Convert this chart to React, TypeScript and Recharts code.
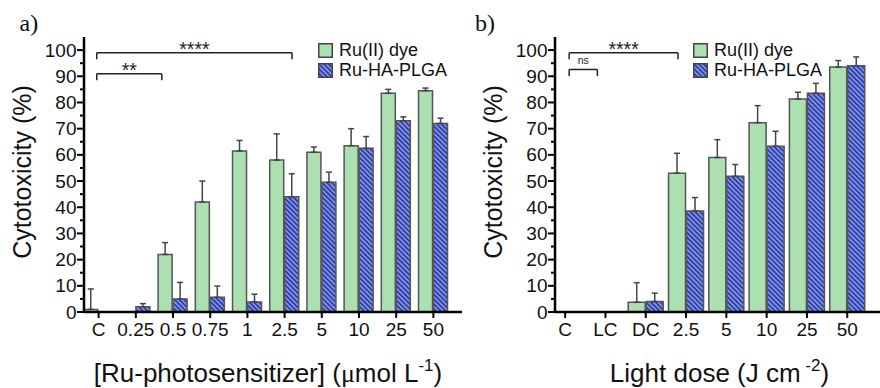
import React from 'react';
import { BarChart, Bar, XAxis, YAxis, ErrorBar, ReferenceLine, Legend, Label } from 'recharts';

// ---------- data ----------
const concCategories = ['C', '0.25', '0.5', '0.75', '1', '2.5', '5', '10', '25', '50'];
const concDyeMean = [1, 0, 22, 42, 61.5, 58, 61, 63.5, 83.5, 84.5];
const concDyeSD = [7.8, 0, 4.5, 8, 4, 10, 2, 6.5, 1.5, 1];
const concNanoMean = [0, 2, 5, 5.6, 3.8, 44, 49.5, 62.5, 73, 72];
const concNanoSD = [0, 1.2, 6.3, 4.3, 3, 8.8, 3.9, 4.5, 1.5, 2];

const doseCategories = ['C', 'LC', 'DC', '2.5', '5', '10', '25', '50'];
const doseDyeMean = [0, 0, 3.7, 53, 59, 72.3, 81.3, 93.5];
const doseDyeSD = [0, 0, 7.5, 7.6, 6.8, 6.5, 2.6, 2.5];
const doseNanoMean = [0, 0, 4, 38.6, 51.8, 63.3, 83.5, 94];
const doseNanoSD = [0, 0, 3.2, 5.1, 4.5, 5.7, 3.8, 3.4];

const seriesNames = ['Ru(II) dye', 'Ru-HA-PLGA'];
const yTicks = [0, 5, 10, 15, 20, 25, 30, 35, 40, 45, 50, 55, 60, 65, 70, 75, 80, 85, 90, 95, 100];

// significance brackets (span in category units, height in %)
const concBrackets = [
  { from: 0.45, to: 5.7, y: 99, text: '****', small: false },
  { from: 0.45, to: 2.2, y: 91, text: '**', small: false },
];
const doseBrackets = [
  { from: 0.6, to: 3.3, y: 99, text: '****', small: false },
  { from: 0.6, to: 1.3, y: 92.6, text: 'ns', small: true },
];

// ---------- styles ----------
const FONT = 'Liberation Sans, Arial, sans-serif';
const GREEN = '#ade0b0';
const BAR_STROKE = '#555';
const INK = '#111';

const YTick = (props: any) => {
  const { x, y, payload } = props;
  const major = payload.value % 10 === 0;
  const axisX = x + 9;
  return (
    <g>
      <line x1={axisX - (major ? 7 : 4)} x2={axisX} y1={y} y2={y} stroke="#000" strokeWidth={2} />
      {major && (
        <text x={x + 1.5} y={y} textAnchor="end" dominantBaseline="central" fontSize={19} fill={INK} fontFamily={FONT}>
          {payload.value}
        </text>
      )}
    </g>
  );
};

function makeLegend(fills: string[]) {
  return (props: any) => {
    const payload = props.payload || [];
    return (
      <div style={{ fontFamily: FONT, fontSize: 18, color: INK, lineHeight: '20px' }}>
        {payload.map((e: any, i: number) => (
          <div key={i} style={{ display: 'flex', alignItems: 'center', height: 20, whiteSpace: 'nowrap' }}>
            <svg width={15} height={15} style={{ marginRight: 6 }}>
              <rect x={0.75} y={0.75} width={13.5} height={13.5} fill={fills[i]} stroke="#444" strokeWidth={1.5} />
            </svg>
            <span>{e.value}</span>
          </div>
        ))}
      </div>
    );
  };
}

type PanelProps = {
  categories: string[];
  dyeMean: number[];
  dyeSD: number[];
  nanoMean: number[];
  nanoSD: number[];
  brackets: { from: number; to: number; y: number; text: string; small: boolean }[];
  patternId: string;
  width: number;
  yAxisWidth: number;
  marginRight: number;
  padLeft: number;
  padRight: number;
  catGap: string;
  legendLeft: number;
  xTitle: (cx: number, y: number) => React.ReactNode;
};

function Panel(p: PanelProps) {
  const data = p.categories.map((c, i) => ({
    cat: c,
    idx: i,
    dye: p.dyeMean[i],
    dyeErr: [0, p.dyeSD[i]],
    nano: p.nanoMean[i],
    nanoErr: [0, p.nanoSD[i]],
  }));
  const hatch = `url(#${p.patternId})`;
  const pad = { left: p.padLeft, right: p.padRight };
  const axisLine = { stroke: '#000', strokeWidth: 2.5 };
  const drop = 2.5;

  const bracketEls: React.ReactNode[] = [];
  p.brackets.forEach((b, k) => {
    bracketEls.push(
      <ReferenceLine
        key={`h${k}`}
        xAxisId="n"
        segment={[{ x: b.from, y: b.y }, { x: b.to, y: b.y }]}
        stroke="#222"
        strokeWidth={1.5}
        ifOverflow="visible"
        label={(lp: any) => {
          const vb = lp.viewBox || {};
          const cx = vb.x + vb.width / 2;
          return (
            <text
              x={cx}
              y={b.small ? vb.y - 5 : vb.y + 3.5}
              textAnchor="middle"
              fontSize={b.small ? 10.5 : 19.5}
              fill="#222"
              fontFamily={FONT}
            >
              {b.text}
            </text>
          );
        }}
      />
    );
    bracketEls.push(
      <ReferenceLine key={`l${k}`} xAxisId="n" segment={[{ x: b.from, y: b.y }, { x: b.from, y: b.y - drop }]} stroke="#222" strokeWidth={1.5} ifOverflow="visible" />
    );
    bracketEls.push(
      <ReferenceLine key={`r${k}`} xAxisId="n" segment={[{ x: b.to, y: b.y }, { x: b.to, y: b.y - drop }]} stroke="#222" strokeWidth={1.5} ifOverflow="visible" />
    );
  });

  return (
    <BarChart
      width={p.width}
      height={388}
      data={data}
      margin={{ top: 37, right: p.marginRight, bottom: 0, left: 0 }}
      barCategoryGap={p.catGap}
      barGap={1}
    >
      <defs>
        <pattern id={p.patternId} patternUnits="userSpaceOnUse" width={3.4} height={3.4} patternTransform="rotate(-45)">
          <rect width={3.4} height={3.4} fill="#2a3cae" />
          <line x1={1.7} y1={0} x2={1.7} y2={3.4} stroke="#9fb0ea" strokeWidth={1.3} />
        </pattern>
      </defs>
      <XAxis
        dataKey="cat"
        height={76}
        padding={pad}
        interval={0}
        tickSize={6}
        tickMargin={5}
        axisLine={axisLine}
        tickLine={{ stroke: '#000', strokeWidth: 2 }}
        tick={{ fontSize: 19, fill: INK, fontFamily: FONT }}
      >
        <Label content={(lp: any) => {
          const vb = lp.viewBox || {};
          return p.xTitle(vb.x + vb.width / 2, vb.y + 70);
        }} />
      </XAxis>
      <XAxis xAxisId="top" dataKey="cat" orientation="top" height={0} padding={pad} tick={false} tickLine={false} axisLine={axisLine} />
      <XAxis xAxisId="n" dataKey="idx" type="number" domain={[0, p.categories.length]} padding={pad} hide allowDataOverflow />
      <YAxis
        domain={[0, 105]}
        ticks={yTicks}
        interval={0}
        width={p.yAxisWidth}
        tickSize={6}
        tickMargin={3}
        tickLine={false}
        tick={<YTick />}
        axisLine={axisLine}
        allowDataOverflow
      >
        <Label content={(lp: any) => {
          const vb = lp.viewBox || {};
          const x = vb.x + vb.width - 53;
          const y = vb.y + vb.height / 2 - 2.5;
          return (
            <text x={x} y={y} transform={`rotate(-90 ${x} ${y})`} textAnchor="middle" fontSize={25} fill={INK} fontFamily={FONT}>
              Cytotoxicity (%)
            </text>
          );
        }} />
      </YAxis>
      <YAxis yAxisId="r" orientation="right" width={0} domain={[0, 105]} tick={false} tickLine={false} axisLine={axisLine} />
      <Bar dataKey="dye" name={seriesNames[0]} fill={GREEN} stroke={BAR_STROKE} strokeWidth={1.5} isAnimationActive={false}>
        <ErrorBar dataKey="dyeErr" direction="y" width={3} stroke="#444" strokeWidth={1.5} />
      </Bar>
      <Bar dataKey="nano" name={seriesNames[1]} fill={hatch} stroke={BAR_STROKE} strokeWidth={1.5} isAnimationActive={false}>
        <ErrorBar dataKey="nanoErr" direction="y" width={3} stroke="#444" strokeWidth={1.5} />
      </Bar>
      {bracketEls}
      <Legend
        layout="vertical"
        align="center"
        verticalAlign="middle"
        content={makeLegend([GREEN, hatch])}
        wrapperStyle={{ left: p.legendLeft, top: 40, width: 'auto' }}
      />
    </BarChart>
  );
}

const concTitle = (cx: number, y: number) => (
  <text x={cx - 5} y={y} textAnchor="middle" fontSize={26} fill={INK} fontFamily={FONT}>
    [Ru-photosensitizer] (<tspan fontFamily="Liberation Serif, serif">μ</tspan>mol L
    <tspan dy={-11} fontSize={17}>-1</tspan>
    <tspan dy={11}>)</tspan>
  </text>
);

const doseTitle = (cx: number, y: number) => (
  <text x={cx - 3} y={y} textAnchor="middle" fontSize={26} fill={INK} fontFamily={FONT}>
    Light dose (J cm
    <tspan dy={-11} fontSize={17}> -2</tspan>
    <tspan dy={11}>)</tspan>
  </text>
);

export default function App() {
  return (
    <div style={{ position: 'absolute', left: 0, top: 0, width: 880, height: 388, overflow: 'hidden', background: '#fff' }}>
      <div style={{ position: 'absolute', left: 0, top: 0 }}>
        <Panel
          categories={concCategories}
          dyeMean={concDyeMean}
          dyeSD={concDyeSD}
          nanoMean={concNanoMean}
          nanoSD={concNanoSD}
          brackets={concBrackets}
          patternId="hatchA"
          width={470}
          yAxisWidth={84}
          marginRight={8}
          padLeft={-4}
          padRight={10}
          catGap="10%"
          legendLeft={318}
          xTitle={concTitle}
        />
      </div>
      <div style={{ position: 'absolute', left: 440, top: 0 }}>
        <Panel
          categories={doseCategories}
          dyeMean={doseDyeMean}
          dyeSD={doseDyeSD}
          nanoMean={doseNanoMean}
          nanoSD={doseNanoSD}
          brackets={doseBrackets}
          patternId="hatchB"
          width={460}
          yAxisWidth={115}
          marginRight={10}
          padLeft={-10}
          padRight={22.6}
          catGap="6.5%"
          legendLeft={253}
          xTitle={doseTitle}
        />
      </div>
      <div style={{ position: 'absolute', left: 19.5, top: 11, fontFamily: 'Liberation Serif, serif', fontSize: 24, lineHeight: '24px', color: INK }}>a)</div>
      <div style={{ position: 'absolute', left: 475, top: 11, fontFamily: 'Liberation Serif, serif', fontSize: 24, lineHeight: '24px', color: INK }}>b)</div>
    </div>
  );
}
